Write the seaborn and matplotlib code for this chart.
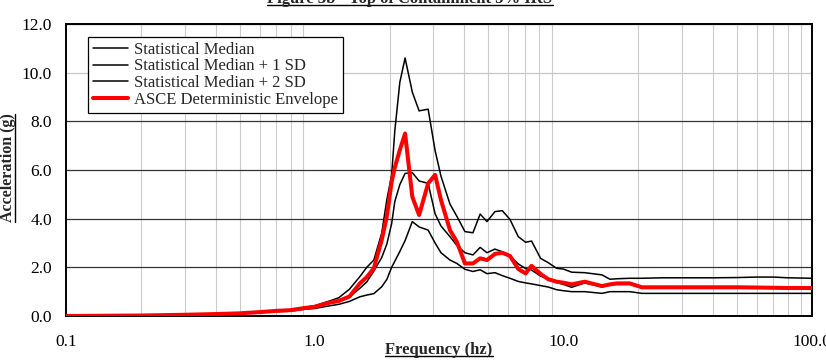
import numpy as np
import pandas as pd
import matplotlib
matplotlib.use("Agg")
import matplotlib.pyplot as plt
from matplotlib.lines import Line2D
from matplotlib.ticker import LogLocator, FixedLocator, FuncFormatter, NullFormatter
import seaborn as sns

# --- data ---
freq = [0.1, 0.2, 0.3, 0.4, 0.5, 0.6, 0.7, 0.8, 0.9, 1.0, 1.15, 1.25, 1.38, 1.52,
        1.62, 1.73, 1.86, 1.95, 2.04, 2.1, 2.2, 2.31, 2.47, 2.63, 2.86, 3.05, 3.22,
        3.5, 3.73, 4.02, 4.33, 4.63, 4.93, 5.31, 5.68, 6.1, 6.59, 7.05, 7.45, 8.1,
        8.7, 9.4, 10.0, 10.8, 12.2, 14.3, 15.4, 16.4, 18.5, 20.7, 25, 30, 40, 50,
        60, 70, 80, 100]

median = [0.0, 0.02, 0.04, 0.07, 0.10, 0.14, 0.18, 0.20, 0.27, 0.31, 0.42, 0.48,
          0.60, 0.79, 0.86, 0.92, 1.20, 1.50, 2.00, 2.25, 2.65, 3.10, 3.88, 3.66,
          3.53, 3.00, 2.60, 2.30, 2.16, 1.92, 1.83, 1.90, 1.74, 1.78, 1.66, 1.55,
          1.42, 1.36, 1.32, 1.25, 1.19, 1.08, 1.04, 1.00, 1.00, 0.93, 1.00, 1.00,
          1.00, 0.93, 0.93, 0.93, 0.93, 0.93, 0.93, 0.93, 0.93, 0.93]

median_1sd = [0.0, 0.02, 0.05, 0.08, 0.11, 0.16, 0.20, 0.23, 0.31, 0.37, 0.52, 0.60,
              0.78, 1.14, 1.40, 1.85, 2.40, 2.95, 3.80, 4.70, 5.40, 5.86, 5.89, 5.55,
              5.45, 4.20, 3.70, 3.26, 2.90, 2.60, 2.51, 2.82, 2.60, 2.75, 2.64, 2.47,
              2.14, 1.95, 1.89, 1.64, 1.52, 1.38, 1.30, 1.18, 1.36, 1.20, 1.27, 1.30,
              1.30, 1.16, 1.16, 1.16, 1.16, 1.16, 1.16, 1.16, 1.16, 1.14]

median_2sd = [0.0, 0.02, 0.05, 0.09, 0.12, 0.17, 0.22, 0.26, 0.35, 0.42, 0.62, 0.75,
              1.10, 1.62, 2.00, 2.30, 3.40, 4.77, 5.80, 7.60, 9.60, 10.60, 9.20, 8.43,
              8.50, 6.80, 5.75, 4.60, 4.10, 3.47, 3.42, 4.19, 3.88, 4.29, 4.33, 3.97,
              3.26, 3.03, 3.08, 2.37, 2.19, 1.96, 1.93, 1.80, 1.78, 1.69, 1.51, 1.53,
              1.55, 1.55, 1.57, 1.57, 1.57, 1.58, 1.60, 1.60, 1.57, 1.55]

asce_env = [0.0, 0.02, 0.05, 0.08, 0.11, 0.16, 0.21, 0.24, 0.32, 0.38, 0.55, 0.62,
            0.80, 1.34, 1.60, 1.96, 3.12, 4.08, 5.52, 6.10, 6.82, 7.50, 4.90, 4.15,
            5.45, 5.80, 4.77, 3.53, 3.05, 2.16, 2.16, 2.37, 2.30, 2.55, 2.60, 2.47,
            1.93, 1.75, 2.06, 1.73, 1.51, 1.41, 1.37, 1.30, 1.41, 1.23, 1.30, 1.34,
            1.34, 1.18, 1.18, 1.18, 1.18, 1.18, 1.17, 1.16, 1.15, 1.15]

series_names = ["Statistical Median", "Statistical Median + 1 SD",
                "Statistical Median + 2 SD", "ASCE Deterministic Envelope"]
y_ticks = [0.0, 2.0, 4.0, 6.0, 8.0, 10.0, 12.0]
x_ticks = [0.1, 1.0, 10.0, 100.0]

df = pd.DataFrame({"freq": freq, series_names[0]: median, series_names[1]: median_1sd,
                   series_names[2]: median_2sd, series_names[3]: asce_env})

sns.set_style("white")
plt.rcParams["font.family"] = ["Liberation Serif", "DejaVu Serif"]

W, H = 826, 364
fig = plt.figure(figsize=(W / 100, H / 100), dpi=100)
ax = fig.add_axes([66 / W, 1 - 316 / H, (812 - 66) / W, (316 - 24) / H])

line_styles = [("black", 1.1), ("black", 1.1), ("black", 1.1), ("#ff0000", 2.9)]
for name, (col, lw) in zip(series_names, line_styles):
    sns.lineplot(data=df, x="freq", y=name, ax=ax, color=col, linewidth=lw,
                 label=name, zorder=3)

ax.set_xscale("log")
ax.set_xlim(0.1, 100)
ax.set_ylim(0, 12)
ax.xaxis.set_major_locator(FixedLocator(x_ticks))
ax.xaxis.set_major_formatter(FuncFormatter(lambda v, p: f"{v:.1f}"))
ax.xaxis.set_minor_locator(LogLocator(base=10, subs=range(2, 10)))
ax.xaxis.set_minor_formatter(NullFormatter())
ax.yaxis.set_major_locator(FixedLocator(y_ticks))
ax.yaxis.set_major_formatter(FuncFormatter(lambda v, p: f"{v:.1f}"))
ax.set_xlabel("")
ax.set_ylabel("")

# gridlines: dark horizontals, light verticals
ax.grid(which="minor", axis="x", color="#cccccc", linewidth=0.8)
ax.grid(which="major", axis="y", color="#333333", linewidth=0.9)
for gl, v in zip(ax.get_ygridlines(), y_ticks):
    if v == 10.0:
        gl.set_color("#c8c8c8")

for sp in ax.spines.values():
    sp.set_visible(True)
    sp.set_color("black")
    sp.set_linewidth(1.4)

ax.tick_params(axis="both", which="major", direction="out", length=4, width=1,
               color="black", labelsize=12.5, labelcolor="black")
ax.tick_params(axis="x", which="major", pad=9)
ax.tick_params(axis="y", which="major", pad=6)
ax.tick_params(axis="x", which="minor", length=0)

leg = ax.legend(loc="upper left", bbox_to_anchor=((88 - 66) / 746, (316 - 37) / 292),
                borderaxespad=0, fontsize=12, frameon=True, fancybox=False,
                framealpha=1, edgecolor="black", handlelength=2.1,
                handletextpad=0.35, labelspacing=0.03, borderpad=0.3)
leg.get_frame().set_linewidth(0.9)
leg.set_zorder(5)

# title and axis labels (bold, underlined)
title = fig.text(410 / W, 1 - 3 / H, "Figure 3b - Top of Containment 5% IRS",
                 ha="center", va="baseline", fontsize=12, fontweight="bold")
xlab = fig.text(439 / W, 1 - 354 / H, "Frequency (hz)", ha="center", va="baseline",
                fontsize=12, fontweight="bold")
ylab = fig.text(8 / W, 1 - 168 / H, "Acceleration (g)", ha="center", va="center",
                rotation=90, fontsize=11.5, fontweight="bold")

fig.canvas.draw()
renderer = fig.canvas.get_renderer()
for t, ypix in [(title, H - 5), (xlab, H - 356)]:
    bb = t.get_window_extent(renderer)
    fig.add_artist(Line2D([bb.x0, bb.x1], [ypix, ypix], transform=None,
                          color="black", linewidth=1.0))
bb = ylab.get_window_extent(renderer)
fig.add_artist(Line2D([bb.x1 - 1.5, bb.x1 - 1.5], [bb.y0, bb.y1], transform=None,
                      color="black", linewidth=1.0))

fig.savefig("out.png", dpi=100)
